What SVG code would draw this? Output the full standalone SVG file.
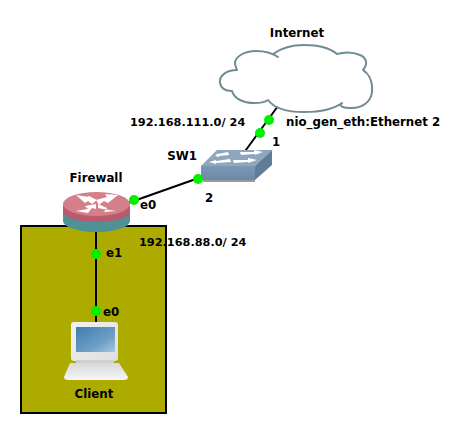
<svg xmlns="http://www.w3.org/2000/svg" width="465" height="434" viewBox="0 0 465 434">
<defs>
<linearGradient id="sw" x1="0" y1="0" x2="0" y2="1"><stop offset="0" stop-color="#7c98b5"/><stop offset="1" stop-color="#6c89a8"/></linearGradient>
<linearGradient id="scr" x1="0" y1="0" x2="1" y2="1"><stop offset="0" stop-color="#3f7db0"/><stop offset="0.65" stop-color="#6f9fc6"/><stop offset="1" stop-color="#a9c6dc"/></linearGradient>
<linearGradient id="base" x1="0" y1="0" x2="0" y2="1"><stop offset="0" stop-color="#d8d8d8"/><stop offset="1" stop-color="#f6f6f6"/></linearGradient>
<linearGradient id="body" x1="0" y1="0" x2="1" y2="1"><stop offset="0" stop-color="#f2f2f2"/><stop offset="1" stop-color="#dedede"/></linearGradient>
</defs>
<style>
text{font-family:"DejaVu Sans",Verdana,sans-serif;font-size:11.8px;font-weight:bold;fill:#000}
.ip{font-size:11.3px}
.dot{fill:#00f000;stroke:none}
.lnk{stroke:#000;stroke-width:2;fill:none}
</style>
<rect width="465" height="434" fill="#fff"/>
<rect id="area" x="21" y="226" width="145" height="187" fill="#aeab00" stroke="#000" stroke-width="2"/>
<g id="connectors">
<line class="lnk" x1="278" y1="106" x2="243" y2="154"/>
<line class="lnk" x1="210" y1="174" x2="128" y2="203"/>
<line class="lnk" x1="96" y1="230" x2="96" y2="325"/>
</g>
<g id="Internet">
<path d="M237 70C226 70 219 76 220 83C221 89 226 91 232 91C234 99 244 103 254 103C260 103 265 102 268 100C274 108 288 112 304 112C320 112 334 109 342 103C338 107 345 108 352 108C362 108 371 102 372 92C373 82 369 74 363 70C368 64 367 58 360 55C353 52 344 52 337 54C330 48 318 45 304 45C292 45 280 49 273 54L278 57C272 53 264 51 256 51C244 51 235 57 235 63C235 66 236 68 237 70Z" fill="#fff" stroke="#6f8d93" stroke-width="2" stroke-linejoin="round"/>
<text x="297" y="37" text-anchor="middle">Internet</text>
</g>
<g id="SW1">
<path d="M201 166L217 150H272L255 166Z" fill="#8fa6bf"/>
<path d="M255 166L272 150V165L255 180Z" fill="#5f7c99"/>
<rect x="201" y="166" width="54" height="14" fill="url(#sw)"/>
<rect x="203" y="180" width="52" height="2" fill="#9a9a9a"/>
<path d="M228 152L218 154V153L215 156L219 157V156L229 155ZM240 152H254V150L263 152L255 155V154L241 155ZM230 159L216 161V160L209 162L216 164V163L231 162ZM233 160H248V158L257 160L248 163V162L234 163Z" fill="#fff"/>
<text x="182" y="160" text-anchor="middle">SW1</text>
</g>
<g id="Firewall">
<path d="M63 205V221A33.500 11 0 0 0 130 221V205Z" fill="#4f9296"/>
<path d="M63 205V212A33.500 10 0 0 0 130 212V205Z" fill="#bb5a6c"/>
<ellipse cx="96.500" cy="204" rx="33.500" ry="12" fill="#d47f8a"/>
<path d="M76 195L89 197L87 195L97 200L92 204L88 201L85 203ZM118 195L105 194L107 197L96 200L99 205L104 201L108 203ZM76 211L88 209L85 206L96 204L96 209L92 208L88 213ZM116 211L104 212L107 208L98 204L98 208L103 209Z" fill="#fff"/>
<text x="96" y="182" text-anchor="middle">Firewall</text>
</g>
<g id="Client">
<rect x="71" y="322" width="47" height="39" rx="3" fill="url(#body)"/>
<rect x="76" y="327" width="39" height="25" fill="url(#scr)"/>
<rect x="76" y="360" width="38" height="3" fill="#cfcfcf"/>
<path d="M70 363H119L128 377Q128 380 124 380H68Q64 380 64 377Z" fill="url(#base)"/>
<text x="94" y="398" text-anchor="middle">Client</text>
</g>
<g id="labels">
<circle class="dot" cx="269" cy="120" r="5"/>
<circle class="dot" cx="260" cy="133" r="5"/>
<circle class="dot" cx="198" cy="179" r="5"/>
<circle class="dot" cx="134" cy="200" r="5"/>
<circle class="dot" cx="96" cy="254" r="5"/>
<circle class="dot" cx="96" cy="311" r="5"/>
<text class="ip" x="130" y="126">192.168.111.0/ 24</text>
<text x="286" y="126">nio_gen_eth:Ethernet 2</text>
<text x="272" y="146">1</text>
<text x="205" y="202">2</text>
<text x="140" y="209">e0</text>
<text class="ip" x="139" y="246">192.168.88.0/ 24</text>
<text x="106" y="257">e1</text>
<text x="103" y="316">e0</text>
</g>
</svg>
